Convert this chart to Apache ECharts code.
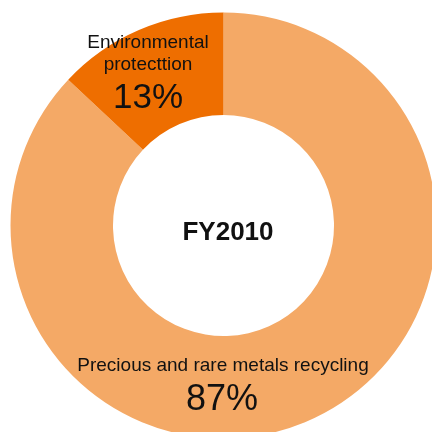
<!DOCTYPE html>
<html><head><meta charset="utf-8">
<script src="https://cdn.jsdelivr.net/npm/echarts@6/dist/echarts.min.js"></script>
<style>html,body{margin:0;padding:0;background:#fff}#c{width:432px;height:432px}</style>
</head><body><div id="c"></div>
<script>
const categories = ['Precious and rare metals recycling', 'Environmental\nprotecttion'];
const values = [87, 13];
const centerTitle = 'FY2010';
const colors = ['#F4A966', '#EE6E00'];

const chart = echarts.init(document.getElementById('c'), null, {renderer: 'canvas'});
const font = 'Liberation Sans, Arial, Helvetica, sans-serif';
chart.setOption({
  animation: false,
  series: [{
    type: 'pie',
    center: [223.5, 225.5],
    radius: [110.5, 213],
    startAngle: 90,
    clockwise: true,
    silent: true,
    label: {show: false},
    labelLine: {show: false},
    itemStyle: {borderWidth: 0},
    data: categories.map((c, i) => ({name: c, value: values[i], itemStyle: {color: colors[i]}}))
  }],
  graphic: [
    {type: 'text', z: 100, style: {text: centerTitle, x: 228, y: 233, textAlign: 'center', textVerticalAlign: 'middle', font: 'bold 26px ' + font, fill: '#111'}},
    {type: 'text', z: 100, style: {text: categories[1], x: 148, y: 54, textAlign: 'center', textVerticalAlign: 'middle', font: '19px ' + font, fill: '#111', lineHeight: 22}},
    {type: 'text', z: 100, style: {text: values[1] + '%', x: 148, y: 98, textAlign: 'center', textVerticalAlign: 'middle', font: '35px ' + font, fill: '#111'}},
    {type: 'text', z: 100, style: {text: categories[0], x: 223, y: 366, textAlign: 'center', textVerticalAlign: 'middle', font: '19px ' + font, fill: '#111'}},
    {type: 'text', z: 100, style: {text: values[0] + '%', x: 222, y: 400, textAlign: 'center', textVerticalAlign: 'middle', font: '36px ' + font, fill: '#111'}}
  ]
});
</script></body></html>
